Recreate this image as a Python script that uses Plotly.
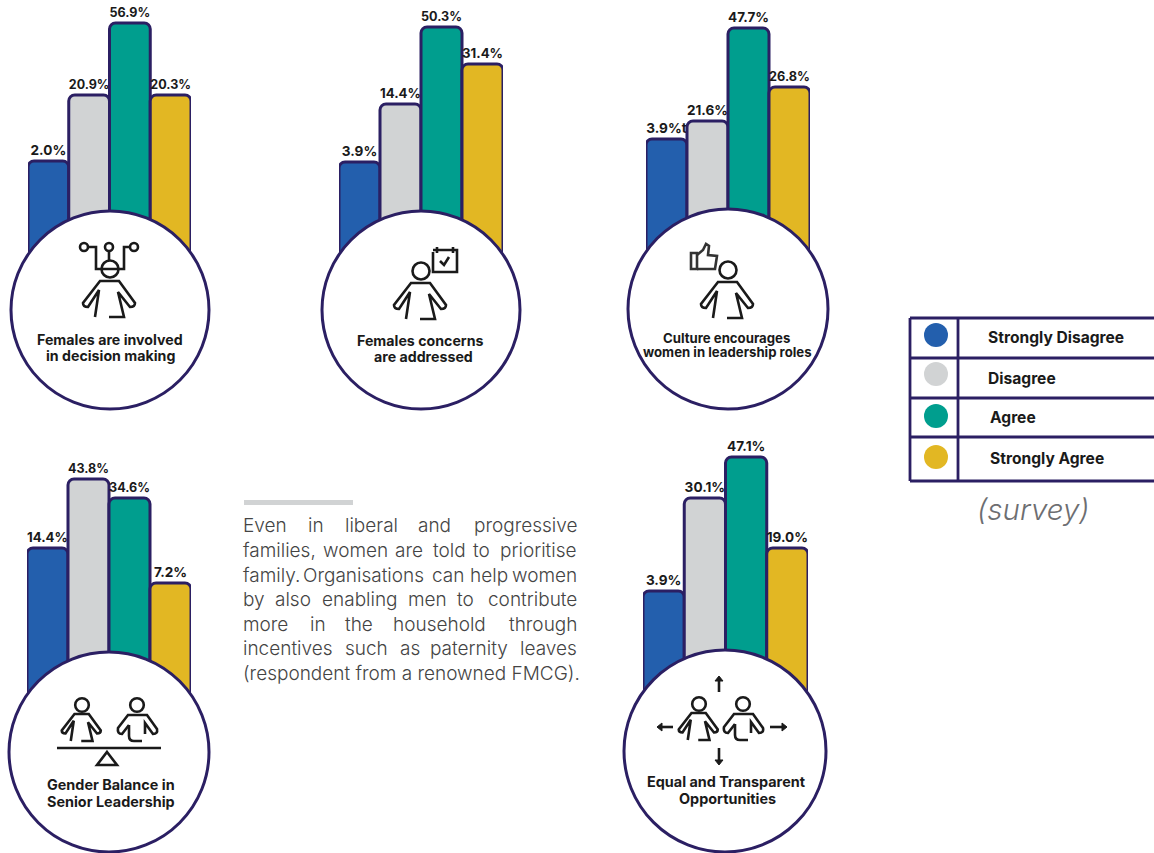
import plotly.graph_objects as go

W, H = 1154, 853
NAVY = "#2B1F63"
INK = "#1A1A1A"

categories = ["Strongly Disagree", "Disagree", "Agree", "Strongly Agree"]
colors = ["#235FAD", "#D1D3D4", "#009E8E", "#E2B723"]

# Printed percentages (the stray "t" after 3.9% is in the source graphic)
labels_involved = ["2.0%", "20.9%", "56.9%", "20.3%"]
labels_concerns = ["3.9%", "14.4%", "50.3%", "31.4%"]
labels_culture = ["3.9%t", "21.6%", "47.7%", "26.8%"]
labels_balance = ["14.4%", "43.8%", "34.6%", "7.2%"]
labels_equal = ["3.9%", "30.1%", "47.1%", "19.0%"]

# Bar lengths as drawn in the source graphic (it is not to scale with its labels)
drawn_involved = [149, 215, 287, 215]
drawn_concerns = [148, 206, 283, 246]
drawn_culture = [170, 188, 281, 222]
drawn_balance = [204, 273, 254, 169]
drawn_equal = [160, 253, 294, 203]

captions = {
    "involved": ["Females are involved", "in decision making"],
    "concerns": ["Females concerns", "are addressed"],
    "culture": ["Culture encourages", "women in leadership roles"],
    "balance": ["Gender Balance in", "Senior Leadership"],
    "equal": ["Equal and Transparent", "Opportunities"],
}

quote_lines = [
    [("Even", 243), ("in", 308), ("liberal", 345), ("and", 418), ("progressive", 577)],
    [("families,", 243), ("women", 323), ("are", 395), ("told", 433), ("to", 473), ("prioritise", 577)],
    [("family.", 243), ("Organisations", 303), ("can", 432), ("help", 470), ("women", 577)],
    [("by", 243), ("also", 275), ("enabling", 322), ("men", 408), ("to", 457), ("contribute", 577)],
    [("more", 243), ("in", 310), ("the", 345), ("household", 393), ("through", 577)],
    [("incentives", 243), ("such", 345), ("as", 400), ("paternity", 430), ("leaves", 577)],
    [("(respondent from a renowned FMCG).", 243)],
]

BOLD = "Inter"
LIGHT = "Inter"


def px(x):
    return x / W


def py(y):
    return 1 - y / H


def path(points, close=False):
    parts = []
    for i, p in enumerate(points):
        if len(p) == 2:
            parts.append(f"{'M' if i == 0 else 'L'}{px(p[0]):.5f},{py(p[1]):.5f}")
        else:
            parts.append(f"Q{px(p[0]):.5f},{py(p[1]):.5f} {px(p[2]):.5f},{py(p[3]):.5f}")
    return " ".join(parts) + (" Z" if close else "")


shapes = []
annotations = []


def stroke(points, width=2.6, color=INK, close=False, fill=None):
    shapes.append(dict(type="path", xref="paper", yref="paper", path=path(points, close),
                       line=dict(color=color, width=width),
                       fillcolor=fill if fill else "rgba(0,0,0,0)"))


def circle(cx, cy, r, line=INK, width=2.6, fill="rgba(0,0,0,0)"):
    shapes.append(dict(type="circle", xref="paper", yref="paper",
                       x0=px(cx - r), x1=px(cx + r), y0=py(cy + r), y1=py(cy - r),
                       line=dict(color=line, width=width), fillcolor=fill))


def text(x, y, s, size=14.2, family=BOLD, color=INK, anchor="center", weight=700, style="normal"):
    nudge = {"left": -2, "right": 2, "center": 0}[anchor]
    annotations.append(dict(x=px(x + nudge), y=py(y), xref="paper", yref="paper", text=s, showarrow=False,
                            xanchor=anchor, yanchor="middle",
                            font=dict(size=size, family=family, color=color, weight=weight, style=style)))


def woman(hx, hy, s=1.0, head=8.5):
    circle(hx, hy, head)
    pts = [(-15, 48), (-11, 21), (-22, 38), (-27, 38, -27, 34), (-10, 12), (9, 12), (25, 34),
           (25, 38, 20, 38), (8, 23), (14, 48), (-1, 48)]
    out = []
    for p in pts:
        out.append(tuple(hx + v * s if i % 2 == 0 else hy + v * s for i, v in enumerate(p)))
    stroke(out)


def man(hx, hy, head=6.8):
    circle(hx, hy, head)
    pts = [(-8, 20), (-15, 29), (-20, 29, -19, 23), (-9, 10), (10, 10), (20, 24), (21, 29, 16, 29),
           (8, 18), (8, 29)]
    stroke([tuple(hx + v if i % 2 == 0 else hy + v for i, v in enumerate(p)) for p in pts])
    pts2 = [(-8, 20), (-8, 31), (-8, 36, -3, 36), (5, 36)]
    stroke([tuple(hx + v if i % 2 == 0 else hy + v for i, v in enumerate(p)) for p in pts2])


def arrow(x0, y0, x1, y1):
    stroke([(x0, y0), (x1, y1)])
    dx = 1 if x1 > x0 else -1 if x1 < x0 else 0
    dy = 1 if y1 > y0 else -1 if y1 < y0 else 0
    stroke([(x1 + dx * 5, y1 + dy * 5), (x1 - dy * 4, y1 + dx * 4), (x1 + dy * 4, y1 - dx * 4)],
           width=1, close=True, fill=INK)


fig = go.Figure()
charts = [
    ("involved", labels_involved, drawn_involved, 28, 191, 310),
    ("concerns", labels_concerns, drawn_concerns, 339, 503, 310),
    ("culture", labels_culture, drawn_culture, 646, 810, 309),
    ("balance", labels_balance, drawn_balance, 27, 191, 752),
    ("equal", labels_equal, drawn_equal, 643, 808, 751),
]
layout_axes = {}
for i, (name, labels, drawn, x0, x1, base) in enumerate(charts, start=1):
    suffix = "" if i == 1 else str(i)
    fig.add_trace(go.Bar(
        x=categories, y=drawn, text=labels, textposition="outside", cliponaxis=False,
        textfont=dict(size=13.6, family=BOLD, color=INK, weight=700),
        marker=dict(color=colors, line=dict(color=NAVY, width=3), cornerradius=6),
        width=1, showlegend=False, hoverinfo="skip", xaxis=f"x{suffix}", yaxis=f"y{suffix}",
    ))
    layout_axes[f"xaxis{suffix}"] = dict(domain=[px(x0), px(x1)], range=[-0.5, 3.5], visible=False,
                                         anchor=f"y{suffix}", categoryorder="array",
                                         categoryarray=categories)
    layout_axes[f"yaxis{suffix}"] = dict(domain=[py(base), py(base - 300)], range=[0, 300], visible=False,
                                         anchor=f"x{suffix}")

# white discs over the bar feet
circle(110, 310, 99, NAVY, 3, "#FFFFFF")
circle(421, 310, 99, NAVY, 3, "#FFFFFF")
circle(728, 309, 100, NAVY, 3, "#FFFFFF")
circle(109, 752, 100, NAVY, 3, "#FFFFFF")
circle(725, 751, 101, NAVY, 3, "#FFFFFF")

# icon: decision making
woman(110, 269)
circle(84, 247, 4)
circle(109, 247, 4)
circle(134, 247, 4)
stroke([(88, 247), (96, 247), (96, 269), (124, 269), (124, 247), (130, 247)])
stroke([(109, 251), (109, 260)])

# icon: concerns
woman(421, 271)
stroke([(433, 252), (433, 272), (457, 272), (457, 250), (433, 250)])
stroke([(437, 247), (437, 253)])
stroke([(453, 247), (453, 253)])
stroke([(440, 261), (444, 265), (449, 257)])

# icon: culture
woman(728, 270)
stroke([(691, 253), (697, 253), (697, 269), (691, 269)], close=True, color="#333333")
stroke([(697, 255), (703, 250), (706, 244), (709, 246), (708, 255), (717, 256), (715, 269), (697, 269)],
       color="#333333")

# icon: balance
woman(82, 705, 0.75, 6.8)
man(137, 705)
stroke([(57, 748), (161, 748)])
stroke([(107, 752), (117, 765), (97, 765)], close=True)

# icon: equal
woman(699, 704, 0.75, 6.8)
man(743, 704)
arrow(719, 692, 719, 681)
arrow(719, 748, 719, 760)
arrow(673, 727, 662, 727)
arrow(770, 727, 782, 727)

# captions
text(110, 339, captions["involved"][0]); text(111, 355.5, captions["involved"][1])
text(421, 340.5, captions["concerns"][0]); text(423, 356.5, captions["concerns"][1])
text(726, 337.5, captions["culture"][0], 13.2); text(727.5, 352.5, captions["culture"][1], 13.2)
text(111, 784.5, captions["balance"][0], 14.4); text(111, 801.5, captions["balance"][1], 14.4)
text(726, 781.5, captions["equal"][0], 14.4); text(727, 798.5, captions["equal"][1], 14.4)

# quote
stroke([(244, 502.5), (353, 502.5)], width=5, color="#D1D3D4")
quote_ys = [525, 550, 575, 599, 624, 648, 673]
for y, words in zip(quote_ys, quote_lines):
    for j, (w, x) in enumerate(words):
        last = j == len(words) - 1 and len(words) > 1
        text(x, y, w, 19, LIGHT, "#444444", "right" if last else "left", 300)

# key
for y in (318, 358, 398, 437, 481):
    stroke([(910, y), (1154, y)], 2.8, NAVY)
stroke([(910, 318), (910, 481)], 2.8, NAVY)
stroke([(958, 318), (958, 481)], 2.8, NAVY)
for c, y in zip(colors, (335, 374, 416, 457)):
    circle(936, y, 12, c, 0, c)
for label, x, y in zip(categories, (988, 988, 990, 990), (337.5, 378, 417.5, 458.5)):
    text(x, y, label, 15.6, anchor="left", weight=700)
text(1033, 509, "(survey)", 29.5, LIGHT, "#6D6E71", weight=300, style="italic")

fig.update_layout(width=W, height=H, margin=dict(l=0, r=0, t=0, b=0), paper_bgcolor="white",
                  plot_bgcolor="rgba(0,0,0,0)", barmode="overlay", shapes=shapes,
                  annotations=annotations, **layout_axes)
fig.write_html("out.html", config={"displayModeBar": False},
               post_script="document.body.style.margin='0';")
